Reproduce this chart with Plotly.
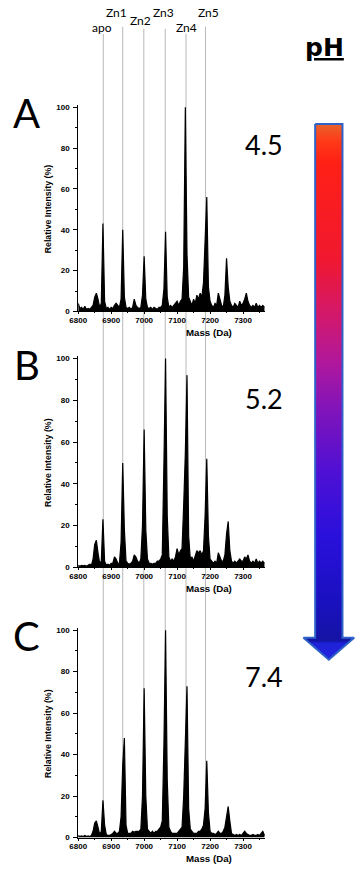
import plotly.graph_objects as go

# ---------------- data ----------------
mass = [
    6800, 6805, 6810, 6815, 6820, 6825, 6830, 6835, 6840, 6845,
    6850, 6855, 6860, 6865, 6870, 6875, 6880, 6885, 6890, 6895,
    6900, 6905, 6910, 6915, 6920, 6925, 6930, 6935, 6940, 6945,
    6950, 6955, 6960, 6965, 6970, 6975, 6980, 6985, 6990, 6995,
    7000, 7005, 7010, 7015, 7020, 7025, 7030, 7035, 7040, 7045,
    7050, 7055, 7060, 7065, 7070, 7075, 7080, 7085, 7090, 7095,
    7100, 7105, 7110, 7115, 7120, 7125, 7130, 7135, 7140, 7145,
    7150, 7155, 7160, 7165, 7170, 7175, 7180, 7185, 7190, 7195,
    7200, 7205, 7210, 7215, 7220, 7225, 7230, 7235, 7240, 7245,
    7250, 7255, 7260, 7265, 7270, 7275, 7280, 7285, 7290, 7295,
    7300, 7305, 7310, 7315, 7320, 7325, 7330, 7335, 7340, 7345,
    7350, 7355, 7360, 7365,
]

# panel A, pH 4.5
intensity_a = [
    4, 1.5, 2, 1, 2.5, 1, 1.5, 1, 2, 3,
    7, 9, 6, 2, 4, 43, 5, 1.5, 2, 1,
    2, 1.5, 3, 4, 3, 2, 6, 40, 7, 2,
    1.5, 2, 1, 2, 6, 3, 2, 1.5, 2, 8,
    27, 6, 2, 1.5, 2, 1, 2, 1.5, 1, 2,
    2, 3, 11, 39, 7, 2, 3, 2, 3, 4,
    5, 3, 5, 6, 22, 100, 28, 7, 5, 3,
    6, 4, 8, 6, 9, 7, 14, 35, 56, 12,
    5, 3, 2, 4, 3, 9, 6, 3, 2, 8,
    26, 12, 5, 3, 2, 4, 3, 2, 5, 3,
    4, 6, 9, 5, 3, 2, 3, 2, 4, 2,
    3, 2, 3, 2,
]

# panel B, pH 5.2
intensity_b = [
    1, 0.5, 1, 0.8, 1, 0.5, 1, 1.5, 1, 4,
    11, 13, 7, 2, 3, 23, 3, 1, 1.5, 1,
    2, 2, 5, 4, 2, 2, 12, 50, 18, 3,
    2, 1.5, 2, 3, 6, 5, 3, 2, 4, 20,
    66, 18, 4, 2, 2, 1.5, 2, 2, 3, 3,
    4, 6, 50, 100, 25, 5, 3, 4, 3, 5,
    9, 6, 8, 9, 30, 55, 92, 15, 4, 5,
    3, 6, 8, 7, 8, 6, 8, 25, 52, 15,
    4, 3, 2, 3, 2, 7, 5, 3, 3, 6,
    16, 22, 8, 3, 2, 3, 2, 3, 4, 3,
    3, 5, 4, 6, 3, 2, 3, 2, 4, 2,
    3, 2, 3, 2,
]

# panel C, pH 7.4
intensity_c = [
    1, 0.5, 0.8, 0.5, 1, 0.5, 0.8, 0.5, 1, 3,
    7, 8, 5, 1.5, 3, 18, 6, 1.5, 1, 1,
    1.5, 2, 3, 2, 2, 3, 10, 35, 48, 6,
    2, 2, 2, 3, 2.5, 3, 3, 3, 4, 20,
    72, 20, 4, 3, 2, 3, 2, 3, 3, 4,
    5, 8, 45, 100, 28, 5, 3, 2, 2, 2,
    2, 3, 4, 5, 20, 50, 73, 14, 4, 3,
    2, 2, 2, 3, 3, 4, 6, 14, 37, 12,
    3, 2, 2, 1.5, 2, 3, 2, 2, 3, 5,
    10, 15, 8, 2, 1.5, 1, 1.5, 1, 1.5, 1,
    2, 3, 2, 1.5, 1, 1, 1.5, 1, 1, 1.5,
    1, 2, 3, 1,
]

panel_letters = ["A", "B", "C"]
ph_values = [4.5, 5.2, 7.4]
state_labels = ["apo", "Zn1", "Zn2", "Zn3", "Zn4", "Zn5"]
state_masses = [6876, 6935, 6999, 7064, 7127, 7186]
y_ticks = [0, 20, 40, 60, 80, 100]
x_ticks = [6800, 6900, 7000, 7100, 7200, 7300]
x_title = "Mass (Da)"
y_title = "Relative Intensity (%)"
ph_title = "pH"

# ---------------- layout constants (pixels) ----------------
W, H = 361, 872
X_LEFT, X_RIGHT = 71, 263
X_RANGE = [6800, 7368]
Y_MAX = 101
PANEL_PX = [(312.0, 106.0), (570.0, 359.3), (842.3, 633.3)]  # (y of 0, y of 100)
LETTER_Y = [112, 366, 639]
PH_Y = [144, 400, 680]
LABEL_POS = [(95, 26), (110, 11), (135, 19), (158, 11), (182, 26), (205, 11)]
LINE_TOP = [32, 25, 27, 27, 32, 25]
LINE_BOTTOM = 842

def fx(p):
    return p / W

def fy(p):
    return 1 - p / H

TEXT_FONT = "Lato, 'Open Sans', sans-serif"
AXIS_FONT = "'Liberation Sans', Arial, sans-serif"

fig = go.Figure()
series = [intensity_a, intensity_b, intensity_c]

annotations = []
for i, (zero_px, hundred_px) in enumerate(PANEL_PX):
    n = "" if i == 0 else str(i + 1)
    ppu = (zero_px - hundred_px) / 100.0
    top_px = zero_px - Y_MAX * ppu
    fig.add_trace(go.Scatter(
        x=mass, y=series[i], mode="lines",
        line=dict(color="black", width=1.2),
        fill="tozeroy", fillcolor="black",
        xaxis="x" + n, yaxis="y" + n, hoverinfo="skip",
    ))
    fig.update_layout(**{
        "xaxis" + n: dict(
            domain=[fx(X_LEFT), fx(X_RIGHT)], range=X_RANGE, anchor="y" + n,
            tickvals=x_ticks, ticks="outside", ticklen=2, tickwidth=1,
            tickcolor="black", showline=True, linecolor="black", linewidth=1,
            showgrid=False, zeroline=False, ticklabelstandoff=-1,
            minor=dict(dtick=50, ticks="outside", ticklen=1, tickcolor="black"),
            tickfont=dict(family=AXIS_FONT, size=8, color="black", weight="bold"),
        ),
        "yaxis" + n: dict(
            domain=[fy(zero_px), fy(top_px)], range=[0, Y_MAX], anchor="x" + n,
            tickvals=y_ticks, ticks="outside", ticklen=4, tickwidth=1,
            tickcolor="black", showline=True, linecolor="black", linewidth=1,
            showgrid=False, zeroline=False, ticklabelstandoff=2,
            minor=dict(dtick=10, ticks="outside", ticklen=2, tickcolor="black"),
            tickfont=dict(family=AXIS_FONT, size=8, color="black", weight="bold"),
        ),
    })
    annotations.append(dict(
        text=y_title, textangle=-90, x=fx(40), y=fy((zero_px + hundred_px) / 2),
        xref="paper", yref="paper", showarrow=False, xanchor="center", yanchor="middle",
        font=dict(family=AXIS_FONT, size=8.8, color="black", weight="bold"),
    ))
    annotations.append(dict(
        text=x_title, x=fx(205), y=fy(zero_px + 21),
        xref="paper", yref="paper", showarrow=False, xanchor="center", yanchor="middle",
        font=dict(family=AXIS_FONT, size=9.7, color="black", weight="bold"),
    ))
    annotations.append(dict(
        text=panel_letters[i], x=fx(18), y=fy(LETTER_Y[i]),
        xref="paper", yref="paper", showarrow=False, xanchor="center", yanchor="middle",
        font=dict(family=TEXT_FONT, size=40, color="black"),
    ))
    annotations.append(dict(
        text=f"{ph_values[i]}", x=fx(262), y=fy(PH_Y[i]),
        xref="paper", yref="paper", showarrow=False, xanchor="center", yanchor="middle",
        font=dict(family=TEXT_FONT, size=27, color="black"),
    ))

# state labels above the reference lines
for lab, (lx, ly) in zip(state_labels, LABEL_POS):
    annotations.append(dict(
        text=lab, x=fx(lx), y=fy(ly), xref="paper", yref="paper", showarrow=False,
        xanchor="center", yanchor="middle",
        font=dict(family=TEXT_FONT, size=12, color="black"),
    ))

annotations.append(dict(
    text=ph_title, x=fx(324), y=fy(46), xref="paper", yref="paper", showarrow=False,
    xanchor="center", yanchor="middle",
    font=dict(family="'DejaVu Sans', sans-serif", size=25, color="black",
              weight="bold", lineposition="under"),
))

shapes = []
for m, top in zip(state_masses, LINE_TOP):
    shapes.append(dict(
        type="line", xref="x", yref="paper", x0=m, x1=m,
        y0=fy(LINE_BOTTOM), y1=fy(top), layer="below",
        line=dict(color="#b8b8b8", width=1),
    ))

# pH gradient arrow (decoration) on a full-page pixel overlay axis
arrow_x = [314, 342, 342, 354, 328, 302, 314, 314]
arrow_y = [123, 123, 641, 641, 663, 641, 641, 123]
fig.add_trace(go.Scatter(
    x=arrow_x, y=arrow_y, mode="lines", fill="toself",
    fillgradient=dict(
        type="vertical", start=123, stop=663,
        colorscale=[
            [0.0, "#e8602a"], [0.03, "#ff3a18"], [0.07, "#ff2015"],
            [0.25, "#f01830"], [0.36, "#d01870"], [0.44, "#b0189c"],
            [0.52, "#8414b8"], [0.64, "#5010d4"], [0.76, "#2a10dc"],
            [0.88, "#1a10c0"], [0.955, "#1414a4"], [0.96, "#1e22d8"],
            [1.0, "#2424e0"],
        ],
    ),
    line=dict(color="#2f62c8", width=2),
    xaxis="x4", yaxis="y4", hoverinfo="skip",
))

fig.update_layout(
    xaxis4=dict(domain=[0, 1], range=[0, W], anchor="y4", visible=False),
    yaxis4=dict(domain=[0, 1], range=[H, 0], anchor="x4", visible=False),
    width=W, height=H, autosize=False,
    margin=dict(l=0, r=0, t=0, b=0, pad=0),
    paper_bgcolor="white", plot_bgcolor="rgba(0,0,0,0)",
    showlegend=False, annotations=annotations, shapes=shapes,
)

fig.write_html(
    "out.html",
    config={"displayModeBar": False},
    post_script="document.body.style.margin='0';document.body.style.overflow='hidden';",
)
